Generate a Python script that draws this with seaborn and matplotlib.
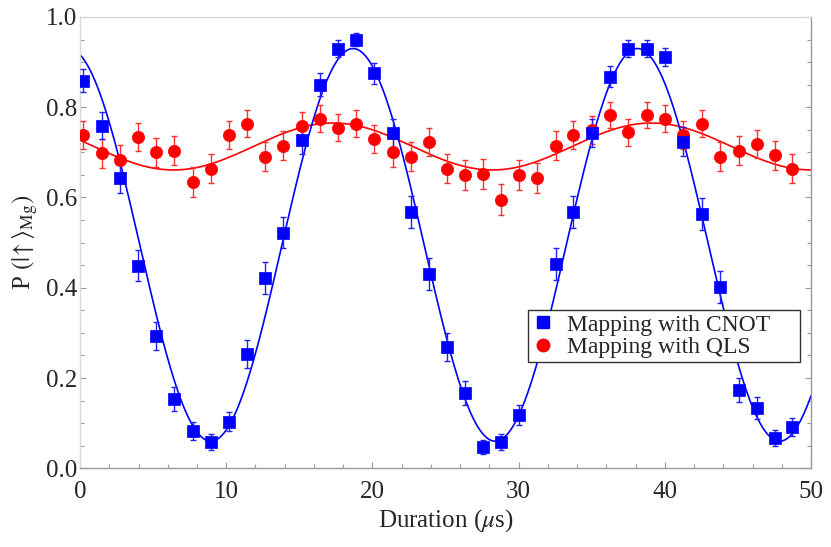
import numpy as np
import pandas as pd
import seaborn as sns
import matplotlib.pyplot as plt
from matplotlib.lines import Line2D
from matplotlib.ticker import MultipleLocator

sns.set_style("ticks")
plt.rcParams['font.family'] = ['Liberation Serif', 'DejaVu Serif']
plt.rcParams['mathtext.fontset'] = 'stix'

# durations (us)
duration = [0.21, 1.51, 2.74, 3.97, 5.20, 6.43, 7.73, 8.97, 10.20, 11.43,
            12.66, 13.89, 15.20, 16.43, 17.66, 18.89, 20.12, 21.42, 22.66, 23.89,
            25.12, 26.35, 27.58, 28.81, 30.05, 31.28, 32.58, 33.74, 35.04, 36.28,
            37.51, 38.81, 40.04, 41.27, 42.57, 43.74, 45.04, 46.27, 47.50, 48.73]

# mapping with CNOT
p_cnot = [0.859, 0.759, 0.644, 0.449, 0.293, 0.154, 0.083, 0.058, 0.103, 0.253,
          0.422, 0.522, 0.728, 0.850, 0.930, 0.950, 0.875, 0.743, 0.568, 0.431,
          0.269, 0.167, 0.047, 0.058, 0.118, 0.280, 0.453, 0.568, 0.743, 0.868,
          0.930, 0.930, 0.912, 0.724, 0.564, 0.402, 0.174, 0.134, 0.067, 0.092]
err_cnot = [0.025, 0.030, 0.034, 0.035, 0.032, 0.026, 0.020, 0.017, 0.021, 0.031,
            0.035, 0.035, 0.031, 0.025, 0.018, 0.015, 0.023, 0.031, 0.035, 0.035,
            0.031, 0.026, 0.015, 0.017, 0.023, 0.032, 0.035, 0.035, 0.031, 0.024,
            0.018, 0.018, 0.020, 0.032, 0.035, 0.035, 0.027, 0.024, 0.018, 0.020]

# mapping with QLS
p_qls = [0.739, 0.698, 0.684, 0.734, 0.700, 0.704, 0.634, 0.664, 0.739, 0.763,
         0.690, 0.715, 0.759, 0.775, 0.755, 0.763, 0.729, 0.700, 0.690, 0.724,
         0.664, 0.650, 0.652, 0.595, 0.649, 0.644, 0.715, 0.739, 0.749, 0.783,
         0.744, 0.783, 0.774, 0.739, 0.763, 0.690, 0.704, 0.719, 0.694, 0.664]
err_qls = [0.031, 0.032, 0.032, 0.031, 0.032, 0.032, 0.033, 0.033, 0.031, 0.030,
           0.032, 0.032, 0.030, 0.030, 0.030, 0.030, 0.031, 0.032, 0.032, 0.031,
           0.033, 0.033, 0.033, 0.034, 0.033, 0.033, 0.032, 0.031, 0.031, 0.029,
           0.031, 0.029, 0.030, 0.031, 0.030, 0.032, 0.032, 0.031, 0.032, 0.033]

# fitted cosine parameters: offset, amplitude, period, time of minimum
fit_cnot = (0.495, 0.435, 19.45, 8.95)
fit_qls = (0.713, 0.052, 21.8, 6.4)

blue = "#0000ff"
red = "#ff0000"

t = np.linspace(0, 50, 600)
def cos_fit(p):
    off, amp, per, tmin = p
    return off - amp * np.cos(2 * np.pi * (t - tmin) / per)

df_fit = pd.DataFrame({"t": t, "cnot": cos_fit(fit_cnot), "qls": cos_fit(fit_qls)})

fig = plt.figure(figsize=(8.31, 5.47), dpi=100)
ax = fig.add_axes([0.0963, 0.1439, 0.8797, 0.8251])

sns.lineplot(data=df_fit, x="t", y="qls", color=red, lw=1.2, ax=ax, zorder=2)
sns.lineplot(data=df_fit, x="t", y="cnot", color=blue, lw=1.2, ax=ax, zorder=2)

ax.errorbar(duration, p_qls, yerr=err_qls, fmt='none', ecolor="#ff3030",
            elinewidth=1.0, capsize=2.4, capthick=1.0, zorder=3)
ax.errorbar(duration, p_cnot, yerr=err_cnot, fmt='none', ecolor="#2020ff",
            elinewidth=1.0, capsize=2.4, capthick=1.0, zorder=3)
sns.scatterplot(x=duration, y=p_qls, color=red, marker='o', s=78,
                edgecolor=red, linewidth=0.5, ax=ax, zorder=4)
sns.scatterplot(x=duration, y=p_cnot, color=blue, marker='s', s=70,
                edgecolor=blue, linewidth=0.5, ax=ax, zorder=4)

ax.set_xlim(0, 50)
ax.set_ylim(0, 1.0)
ax.xaxis.set_major_locator(MultipleLocator(10))
ax.xaxis.set_minor_locator(MultipleLocator(2))
ax.yaxis.set_major_locator(MultipleLocator(0.2))
ax.yaxis.set_minor_locator(MultipleLocator(0.05))
ax.yaxis.set_major_formatter(plt.FuncFormatter(lambda v, _: f"{v:.1f}"))

ax.tick_params(which='both', direction='in', color='#999999', labelsize=18,
               right=True, top=False)
ax.tick_params(axis='y', pad=2)
ax.tick_params(axis='x', pad=9)
ax.tick_params(which='major', length=4, width=0.8)
ax.tick_params(which='minor', length=3, width=0.8)

for side in ['top', 'left']:
    ax.spines[side].set_color('#d8d8d8')
for side in ['bottom', 'right']:
    ax.spines[side].set_color('#999999')
for s in ax.spines.values():
    s.set_linewidth(1.0)

ax.set_xlabel(r"Duration ($\mu$s)", fontsize=18, labelpad=3)
ax.set_ylabel(r"P $(|\!\uparrow\rangle_{\mathrm{Mg}})$", fontsize=18, labelpad=4)

handles = [Line2D([], [], marker='s', color=blue, ls='none', markersize=9),
           Line2D([], [], marker='o', color=red, ls='none', markersize=9)]
leg = ax.legend(handles, ["Mapping with CNOT", "Mapping with QLS"],
                loc='lower left', bbox_to_anchor=(0.613, 0.236, 0.372, 0.122),
                mode='expand', fontsize=17,
                frameon=True, fancybox=False, framealpha=1, edgecolor='#333333',
                borderpad=0.15, labelspacing=0.05, handletextpad=0.5,
                handlelength=1.0, borderaxespad=0)
leg.get_frame().set_linewidth(1.0)
leg.set_zorder(10)

fig.savefig("out.png", dpi=100)
